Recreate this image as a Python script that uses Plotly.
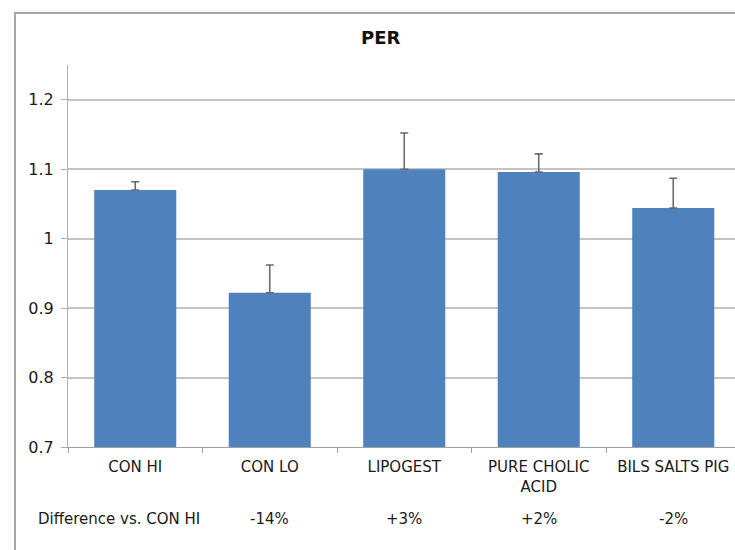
import plotly.graph_objects as go

categories = ["CON HI", "CON LO", "LIPOGEST", "PURE CHOLIC<br>ACID", "BILS SALTS PIG"]
per_values = [1.070, 0.922, 1.100, 1.096, 1.044]
per_errors = [0.012, 0.040, 0.052, 0.026, 0.043]
differences = ["", "-14%", "+3%", "+2%", "-2%"]
y_ticks = [0.7, 0.8, 0.9, 1.0, 1.1, 1.2]
y_tick_labels = ["0.7", "0.8", "0.9", "1", "1.1", "1.2"]

FONT = "DejaVu Sans, sans-serif"
W, H = 735, 550
PL, PT, PB = 68, 65, 447  # plot area in window pixels
L, T, B = PL, PT, H - PB
plot_w = W - PL
plot_h = PB - PT


def px(xw):
    return (xw - PL) / plot_w


def py(yw):
    return (PB - yw) / plot_h


fig = go.Figure()
fig.add_trace(go.Bar(
    x=categories, y=per_values,
    marker=dict(color="#4F81BD", line=dict(width=0)),
    error_y=dict(type="data", array=per_errors, arrayminus=[0] * len(per_errors),
                 symmetric=False, color="#6b6b6b", thickness=1.6, width=4),
))

for cat, d in zip(categories, differences):
    if d:
        fig.add_annotation(x=cat, xref="x", y=py(519), yref="paper", yanchor="middle",
                           text=d, showarrow=False, font=dict(size=15, color="#1a1a1a", family=FONT))
fig.add_annotation(x=px(36), xref="paper", xanchor="left", y=py(519), yref="paper", yanchor="middle",
                   text="Difference vs. CON HI", showarrow=False,
                   font=dict(size=15, color="#1a1a1a", family=FONT))
fig.add_annotation(x=px(380), xref="paper", xanchor="center", y=py(37), yref="paper", yanchor="middle",
                   text="<b>PER</b>", showarrow=False,
                   font=dict(size=18, color="#111", family=FONT))

# outer frame
fig.add_shape(type="rect", xref="paper", yref="paper",
              x0=px(15), x1=1.2, y0=-2, y1=py(13),
              line=dict(color="#a8a8a8", width=2), layer="below")

fig.update_layout(
    width=W, height=H,
    margin=dict(l=L, r=0, t=T, b=B),
    paper_bgcolor="white", plot_bgcolor="white",
    showlegend=False, bargap=0.39,
    font=dict(family=FONT, size=15, color="#1a1a1a"),
    xaxis=dict(range=[-0.5, -0.5 + plot_w / 134.5], showline=True, linecolor="#a0a0a0",
               linewidth=1, ticks="outside", tickson="boundaries", ticklen=5,
               tickcolor="#a0a0a0", tickfont=dict(size=15, family=FONT, color="#1a1a1a"),
               ticklabelstandoff=6, showgrid=False),
    yaxis=dict(range=[0.7, 1.25], tickvals=y_ticks, ticktext=y_tick_labels,
               showline=True, linecolor="#b0b0b0", linewidth=1,
               ticks="outside", ticklen=6, tickcolor="#b0b0b0",
               showgrid=True, gridcolor="#c4c4c4", gridwidth=1.5, zeroline=False,
               ticklabelstandoff=4,
               tickfont=dict(size=16, family=FONT, color="#1a1a1a")),
)

fig.write_html("out.html", config={"displayModeBar": False},
               post_script="document.body.style.margin='0';document.body.style.overflow='hidden';")
